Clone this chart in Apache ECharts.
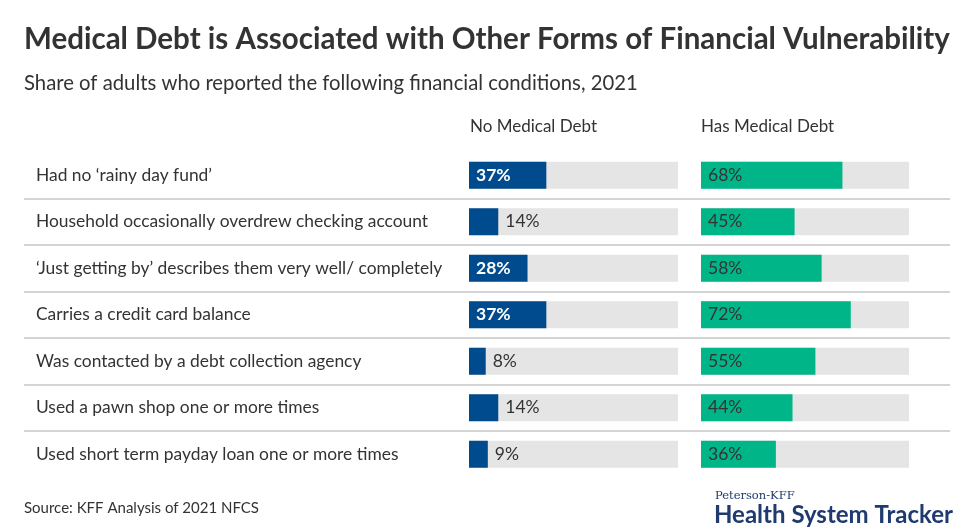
<!DOCTYPE html>
<html lang="en">
    <head>
        <meta charset="utf-8" />
        <title>Medical Debt and Financial Vulnerability</title>
        <script src="https://cdn.jsdelivr.net/npm/echarts@6/dist/echarts.min.js"></script>
        <style>
            body { margin: 0; background: #fff; }
            #main { width: 975px; height: 530px; }
        </style>
    </head>
    <body>
        <div id="main"></div>
    </body>
    <script>
        var categories = [
            'Had no \u2018rainy day fund\u2019',
            'Household occasionally overdrew checking account',
            '\u2018Just getting by\u2019 describes them very well/ completely',
            'Carries a credit card balance',
            'Was contacted by a debt collection agency',
            'Used a pawn shop one or more times',
            'Used short term payday loan one or more times'
        ];
        var noDebt = [37, 14, 28, 37, 8, 14, 9];
        var hasDebt = [68, 45, 58, 72, 55, 44, 36];
        var seriesNames = ['No Medical Debt', 'Has Medical Debt'];

        var font = 'Lato';
        var dom = document.getElementById('main');
        var myChart = echarts.init(dom);

        // small left-side bars get their label outside, in dark text
        var noDebtData = noDebt.map(function (v) {
            if (v >= 20) {
                return { value: v, label: { position: 'insideLeft', color: '#fff', fontWeight: 'bold' } };
            }
            return { value: v, label: { position: 'right', color: '#333', fontWeight: 'normal' } };
        });

        var option = {
            animation: false,
            graphic: [
                { type: 'text', left: 24, top: 24, style: { text: 'Medical Debt is Associated with Other Forms of Financial Vulnerability', font: 'bold 29.5px ' + font, fill: '#333' } },
                { type: 'text', left: 24, top: 73, style: { text: 'Share of adults who reported the following financial conditions, 2021', font: '20.3px ' + font, fill: '#333' } },
                { type: 'text', left: 470, top: 118, style: { text: seriesNames[0], font: '17px ' + font, fill: '#333' } },
                { type: 'text', left: 701, top: 118, style: { text: seriesNames[1], font: '17px ' + font, fill: '#333' } },
                { type: 'text', left: 24, top: 501, style: { text: 'Source: KFF Analysis of 2021 NFCS', font: '15px ' + font, fill: '#333' } },
                { type: 'text', left: 715, top: 490, style: { text: 'Peterson-KFF', font: '11.5px "DejaVu Serif"', fill: '#1f3a6e' } },
                { type: 'text', left: 714, top: 503, style: { text: 'Health System Tracker', font: 'bold 24px ' + font, fill: '#1f3a6e' } }
            ],
            grid: [
                { left: 469, width: 209, top: 152, height: 325.5 },
                { left: 701, width: 208, top: 152, height: 325.5 },
                { left: 24, right: 25, top: 198.25, height: 232.5 }
            ],
            xAxis: [
                { gridIndex: 0, type: 'value', min: 0, max: 100, show: false },
                { gridIndex: 1, type: 'value', min: 0, max: 100, show: false },
                { gridIndex: 2, type: 'value', min: 0, max: 1, show: false }
            ],
            yAxis: [
                {
                    gridIndex: 0, type: 'category', data: categories, inverse: true,
                    axisLine: { show: false }, axisTick: { show: false },
                    axisLabel: { align: 'left', margin: 433, fontFamily: font, fontSize: 17.4, color: '#333' }
                },
                {
                    gridIndex: 1, type: 'category', data: categories, inverse: true,
                    axisLine: { show: false }, axisTick: { show: false }, axisLabel: { show: false }
                },
                {
                    // row separators
                    gridIndex: 2, type: 'value', min: 1, max: 6, interval: 1,
                    axisLine: { show: false }, axisTick: { show: false }, axisLabel: { show: false },
                    splitLine: { show: true, lineStyle: { color: '#d4d4d4', width: 2 } }
                }
            ],
            series: [
                {
                    name: seriesNames[0], type: 'bar', xAxisIndex: 0, yAxisIndex: 0,
                    data: noDebtData, barWidth: 27,
                    itemStyle: { color: '#004b8d' },
                    showBackground: true, backgroundStyle: { color: '#e5e5e5' },
                    label: { show: true, formatter: '{c}%', distance: 7, fontFamily: font, fontSize: 17.5 }
                },
                {
                    name: seriesNames[1], type: 'bar', xAxisIndex: 1, yAxisIndex: 1,
                    data: hasDebt, barWidth: 27,
                    itemStyle: { color: '#00b688' },
                    showBackground: true, backgroundStyle: { color: '#e5e5e5' },
                    label: { show: true, position: 'insideLeft', formatter: '{c}%', distance: 7, fontFamily: font, fontSize: 17.5, color: '#333' }
                }
            ]
        };
        myChart.setOption(option);
    </script>
</html>
